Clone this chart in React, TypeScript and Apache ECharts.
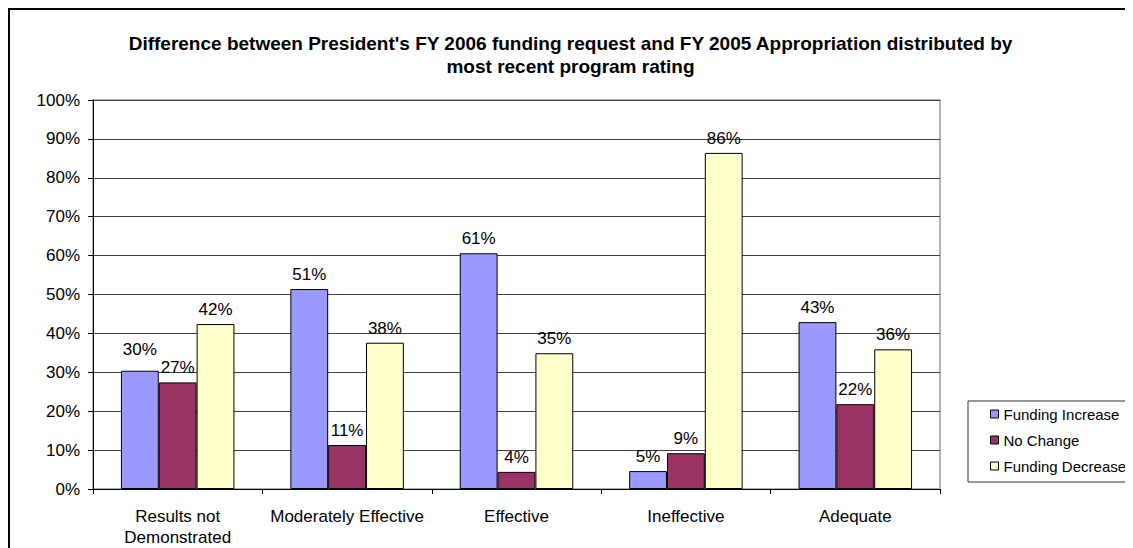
import React, { useEffect, useRef } from "react";
import * as echarts from "echarts";

const titleLines = [
  "Difference between President's FY 2006 funding request and FY 2005 Appropriation distributed by",
  "most recent program rating",
];
const categories = [
  "Results not\nDemonstrated",
  "Moderately Effective",
  "Effective",
  "Ineffective",
  "Adequate",
];
const seriesNames = ["Funding Increase", "No Change", "Funding Decrease"];
const fundingIncrease = [30.4, 51.4, 60.6, 4.6, 42.9];
const noChange = [27.4, 11.3, 4.4, 9.2, 21.8];
const fundingDecrease = [42.4, 37.6, 34.9, 86.4, 35.9];
const seriesColors = ["#9999FF", "#993366", "#FFFFCC"];

const FONT = "Liberation Sans, Arial, sans-serif";

export default function App() {
  const ref = useRef<HTMLDivElement>(null);
  useEffect(() => {
    if (!ref.current) return;
    const chart = echarts.init(ref.current, null, { renderer: "svg" });
    const values = [fundingIncrease, noChange, fundingDecrease];
    const series = values.map((vals, si) => ({
      name: seriesNames[si],
      type: "bar",
      barGap: "0%",
      barCategoryGap: "33%",
      itemStyle: { color: seriesColors[si], borderColor: "#000", borderWidth: 1 },
      label: {
        show: true,
        position: "top",
        distance: 6,
        color: "#000",
        fontFamily: FONT,
        fontSize: 17,
        formatter: (p: any) => Math.round(p.value) + "%",
      },
      data: vals.map((v, i) =>
        si === 0 && i === 0 ? { value: v, label: { distance: 13 } } : v
      ),
    }));
    chart.setOption({
      animation: false,
      textStyle: { fontFamily: FONT },
      title: {
        text: titleLines.join("\n"),
        left: "center",
        top: 24,
        padding: [0, 0, 0, 23],
        textStyle: {
          fontFamily: FONT,
          fontSize: 19,
          fontWeight: "bold",
          color: "#000",
          lineHeight: 23,
        },
      },
      graphic: [
        {
          type: "rect",
          shape: { x: 1, y: 1, width: 2000, height: 2000 },
          style: { fill: "none", stroke: "#000", lineWidth: 2 },
          silent: true,
        },
      ],
      legend: {
        orient: "vertical",
        left: 960,
        top: 393,
        padding: [5, 12, 8, 22],
        itemGap: 10,
        itemWidth: 8,
        itemHeight: 8,
        icon: "rect",
        borderColor: "#333",
        borderWidth: 1,
        itemStyle: { borderColor: "#000", borderWidth: 1 },
        textStyle: { fontFamily: FONT, fontSize: 15, color: "#000", lineHeight: 16 },
        data: seriesNames,
      },
      grid: {
        left: 85,
        right: 193,
        top: 92,
        bottom: 59,
        show: true,
        borderColor: "#999",
        borderWidth: 1.5,
        containLabel: false,
      },
      xAxis: {
        type: "category",
        data: categories,
        axisLine: { lineStyle: { color: "#000", width: 1 } },
        axisTick: { show: true, length: 5, alignWithLabel: false, lineStyle: { color: "#000" } },
        axisLabel: {
          color: "#000",
          fontFamily: FONT,
          fontSize: 17,
          lineHeight: 21,
          margin: 17,
          verticalAlign: "top",
          interval: 0,
        },
      },
      yAxis: {
        type: "value",
        min: 0,
        max: 100,
        interval: 10,
        axisLine: { show: true, lineStyle: { color: "#000", width: 1 } },
        axisTick: { show: true, length: 5, lineStyle: { color: "#000" } },
        axisLabel: {
          color: "#000",
          fontFamily: FONT,
          fontSize: 17,
          margin: 13,
          formatter: "{value}%",
        },
        splitLine: { show: true, lineStyle: { color: "#404040", width: 1 } },
      },
      series,
    });
    return () => chart.dispose();
  }, []);
  return <div ref={ref} style={{ width: 1125, height: 540 }} />;
}
